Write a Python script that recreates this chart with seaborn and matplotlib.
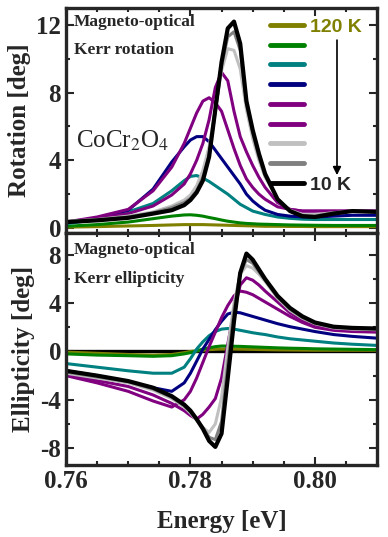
import numpy as np
import pandas as pd
import matplotlib
matplotlib.use("Agg")
import matplotlib.pyplot as plt
import seaborn as sns
from matplotlib.ticker import MultipleLocator

# ------------------------------
# Data
# ------------------------------
energy = [0.760, 0.765, 0.770, 0.774, 0.777, 0.779, 0.780, 0.781, 0.782, 0.783,
          0.784, 0.785, 0.786, 0.787, 0.788, 0.789, 0.790, 0.791, 0.792, 0.794,
          0.796, 0.798, 0.800, 0.803, 0.806, 0.810]

temps = ["120 K", "T2", "T3", "T4", "T5", "T6", "T7", "T8", "10 K"]
colors = ["#808000", "#008000", "#008080", "#000080", "#800080", "#800080",
          "#c0c0c0", "#808080", "#000000"]

rot_120 = [0.05, 0.08, 0.12, 0.15, 0.18, 0.2, 0.2, 0.2, 0.2, 0.19, 0.18, 0.17, 0.16,
           0.15, 0.14, 0.13, 0.12, 0.11, 0.1, 0.1, 0.09, 0.09, 0.08, 0.08, 0.08, 0.08]
rot_t2 = [0.1, 0.2, 0.35, 0.55, 0.7, 0.77, 0.78, 0.75, 0.7, 0.62, 0.55, 0.47, 0.4,
          0.35, 0.3, 0.27, 0.25, 0.23, 0.22, 0.2, 0.18, 0.17, 0.16, 0.15, 0.15, 0.15]
rot_t3 = [0.25, 0.5, 0.95, 1.45, 2.2, 2.8, 3.05, 3.1, 2.95, 2.75, 2.5, 2.25, 2.0,
          1.7, 1.4, 1.2, 1.0, 0.9, 0.8, 0.65, 0.57, 0.52, 0.5, 0.5, 0.5, 0.5]
rot_t4 = [0.3, 0.6, 1.05, 2.3, 3.9, 4.8, 5.2, 5.4, 5.4, 5.1, 4.6, 4.1, 3.6,
          3.1, 2.6, 2.0, 1.6, 1.3, 1.05, 0.8, 0.7, 0.65, 0.65, 0.7, 0.75, 0.75]
rot_t5 = [0.35, 0.65, 1.1, 2.2, 3.6, 5.0, 5.9, 6.8, 7.5, 7.7, 7.4, 6.9, 5.8,
          4.7, 3.7, 2.9, 2.4, 2.0, 1.7, 1.25, 1.1, 1.0, 1.0, 1.0, 1.0, 1.0]
rot_t6 = [0.35, 0.55, 0.85, 1.3, 1.95, 2.6, 3.2, 4.0, 5.0, 6.4, 8.3, 9.2, 8.7,
          6.9, 5.4, 4.5, 3.7, 3.0, 2.4, 1.5, 1.1, 1.0, 1.0, 1.0, 1.0, 1.0]
rot_t7 = [0.4, 0.5, 0.7, 0.95, 1.3, 1.65, 1.95, 2.5, 3.4, 4.8, 7.0, 9.3, 10.6,
          10.5, 9.4, 7.0, 5.3, 4.0, 3.0, 1.7, 1.05, 0.8, 0.8, 0.9, 1.0, 0.95]
rot_t8 = [0.38, 0.48, 0.65, 0.9, 1.2, 1.5, 1.75, 2.2, 3.0, 4.3, 6.9, 9.6, 11.3,
          11.6, 10.5, 7.3, 5.6, 4.2, 3.1, 1.7, 1.0, 0.72, 0.7, 0.9, 1.0, 0.95]
rot_10 = [0.35, 0.45, 0.6, 0.85, 1.05, 1.35, 1.65, 2.1, 2.8, 4.2, 7.0, 9.8, 11.8,
          12.2, 10.9, 7.5, 5.8, 4.4, 3.2, 1.7, 1.0, 0.7, 0.65, 0.85, 1.0, 0.95]

ell_120 = [-0.05, -0.15, -0.25, -0.3, -0.25, -0.1, 0.0, 0.05, 0.1, 0.15, 0.18, 0.2, 0.2,
           0.2, 0.19, 0.18, 0.17, 0.16, 0.15, 0.13, 0.12, 0.11, 0.1, 0.1, 0.1, 0.1]
ell_t2 = [-0.2, -0.3, -0.35, -0.4, -0.35, -0.2, -0.1, 0.05, 0.2, 0.3, 0.4, 0.45, 0.45,
          0.43, 0.42, 0.4, 0.38, 0.36, 0.34, 0.3, 0.27, 0.25, 0.22, 0.2, 0.18, 0.15]
ell_t3 = [-1.0, -1.3, -1.6, -1.8, -1.8, -1.3, -0.6, 0.2, 0.8, 1.3, 1.65, 1.85, 1.9,
          1.85, 1.75, 1.65, 1.55, 1.47, 1.4, 1.2, 1.05, 0.95, 0.85, 0.7, 0.6, 0.5]
ell_t4 = [-1.6, -2.0, -2.5, -3.0, -3.3, -2.6, -1.8, -0.8, 0.2, 1.0, 1.8, 2.5, 3.1,
          3.25, 3.2, 3.05, 2.9, 2.75, 2.6, 2.3, 2.05, 1.85, 1.65, 1.4, 1.25, 1.1]
ell_t5 = [-2.0, -2.6, -3.3, -4.1, -4.6, -4.0, -3.3, -2.2, -0.9, 0.4, 1.6, 2.8, 3.8,
          4.6, 5.0, 4.9, 4.7, 4.4, 4.1, 3.5, 2.9, 2.4, 2.0, 1.75, 1.65, 1.6]
ell_t6 = [-1.9, -2.4, -2.9, -3.6, -4.3, -4.9, -5.3, -5.6, -5.2, -4.6, -3.9, -2.2, 0.6,
          3.4, 5.5, 6.1, 5.9, 5.5, 5.0, 4.1, 3.2, 2.6, 2.2, 1.9, 1.8, 1.75]
ell_t7 = [-1.8, -2.2, -2.6, -3.2, -3.9, -4.6, -5.1, -5.7, -6.3, -6.7, -6.0, -3.8, 0.3,
          4.0, 6.4, 7.1, 6.9, 6.4, 5.8, 4.4, 3.4, 2.75, 2.3, 1.95, 1.85, 1.8]
ell_t8 = [-1.7, -2.1, -2.5, -3.1, -3.8, -4.5, -5.0, -5.6, -6.3, -7.1, -7.3, -5.8, -1.0,
          3.5, 6.5, 7.6, 7.3, 6.6, 5.9, 4.5, 3.5, 2.8, 2.35, 2.0, 1.9, 1.85]
ell_10 = [-1.6, -2.0, -2.45, -3.0, -3.7, -4.4, -4.9, -5.6, -6.4, -7.4, -7.9, -6.8, -2.2,
          2.5, 6.5, 8.1, 7.6, 6.8, 6.0, 4.6, 3.6, 2.9, 2.4, 2.05, 1.95, 1.9]

rotation = [rot_120, rot_t2, rot_t3, rot_t4, rot_t5, rot_t6, rot_t7, rot_t8, rot_10]
ellipticity = [ell_120, ell_t2, ell_t3, ell_t4, ell_t5, ell_t6, ell_t7, ell_t8, ell_10]

rows = []
for t, r, e in zip(temps, rotation, ellipticity):
    for x, rv, ev in zip(energy, r, e):
        rows.append({"E": x, "T": t, "rot": rv, "ell": ev})
df = pd.DataFrame(rows)

# ------------------------------
# Plot
# ------------------------------
sns.set_style("ticks")
plt.rcParams["font.family"] = ["Liberation Serif", "DejaVu Serif"]
plt.rcParams["mathtext.fontset"] = "stix"

fig = plt.figure(figsize=(3.88, 5.37), dpi=100)
ax1 = fig.add_axes([0.170, 0.566, 0.802, 0.419])
ax2 = fig.add_axes([0.170, 0.134, 0.802, 0.432])

widths = [2.2] * 8 + [3.0]
pal = dict(zip(temps, colors))

for ax, col in [(ax1, "rot"), (ax2, "ell")]:
    if col == "ell":
        ax.axhline(0, color="black", lw=2.4, zorder=1)
    sns.lineplot(data=df, x="E", y=col, hue="T", hue_order=temps, palette=pal,
                 size="T", size_order=temps, sizes=dict(zip(temps, widths)),
                 legend=False, ax=ax, zorder=2)

for ax in (ax1, ax2):
    ax.set_xlim(0.76, 0.81)
    ax.xaxis.set_major_locator(MultipleLocator(0.02))
    ax.xaxis.set_minor_locator(MultipleLocator(0.005))
    ax.tick_params(which="both", direction="in", top=True, right=True, width=1.5)
    ax.tick_params(which="major", length=6, labelsize=18)
    ax.tick_params(which="minor", length=3)
    for s in ax.spines.values():
        s.set_linewidth(2.4)
    for lab in ax.get_xticklabels() + ax.get_yticklabels():
        lab.set_fontweight("bold")

ax1.set_ylim(-0.3, 13.0)
ax1.yaxis.set_major_locator(MultipleLocator(4))
ax1.yaxis.set_minor_locator(MultipleLocator(2))
ax1.set_xticklabels([])
ax1.set_xlabel("")
ax1.set_ylabel("Rotation [deg]", fontsize=18, fontweight="bold", labelpad=4)

ax2.set_ylim(-9.4, 9.8)
ax2.yaxis.set_major_locator(MultipleLocator(4))
ax2.yaxis.set_minor_locator(MultipleLocator(2))
ax2.set_xticks([0.76, 0.78, 0.80])
ax2.set_xticklabels(["0.76", "0.78", "0.80"], fontweight="bold")
ax2.set_yticks([-8, -4, 0, 4, 8])
ax2.set_yticklabels(["-8", "-4", "0", "4", "8"], fontweight="bold")
ax2.set_xlabel("Energy [eV]", fontsize=18, fontweight="bold", labelpad=12)
ax2.set_ylabel("Ellipticity [deg]", fontsize=18, fontweight="bold", labelpad=4)
fig.align_ylabels([ax1, ax2])

# annotations
ax1.text(0.026, 0.975, "Magneto-optical", transform=ax1.transAxes, fontsize=12.5,
         fontweight="bold", va="top")
ax1.text(0.026, 0.85, "Kerr rotation", transform=ax1.transAxes, fontsize=12.5,
         fontweight="bold", va="top")
ax1.text(0.032, 0.38, "CoCr$_2$O$_4$", transform=ax1.transAxes, fontsize=18,
         va="baseline")
ax2.text(0.026, 0.96, "Magneto-optical", transform=ax2.transAxes, fontsize=12.5,
         fontweight="bold", va="top")
ax2.text(0.026, 0.835, "Kerr ellipticity", transform=ax2.transAxes, fontsize=12.5,
         fontweight="bold", va="top")

# legend (only the end temperatures labelled)
lines = ax1.get_lines()
labels = ["120 K"] + [""] * 7 + ["10 K"]
leg = ax1.legend(lines, labels, loc="upper left", bbox_to_anchor=(0.598, 1.033),
                 frameon=False, handlelength=1.75, handletextpad=0.35,
                 labelspacing=0.11, prop={"family": "Liberation Sans",
                                          "weight": "bold", "size": 14})
for h in leg.legend_handles:
    h.set_linewidth(3.5)
leg.get_texts()[0].set_color("#808000")

ax1.annotate("", xy=(0.871, 0.245), xytext=(0.871, 0.87), xycoords="axes fraction",
             arrowprops=dict(arrowstyle="-|>", color="black", lw=1.2,
                             mutation_scale=12))

fig.savefig("out.png", dpi=100)
